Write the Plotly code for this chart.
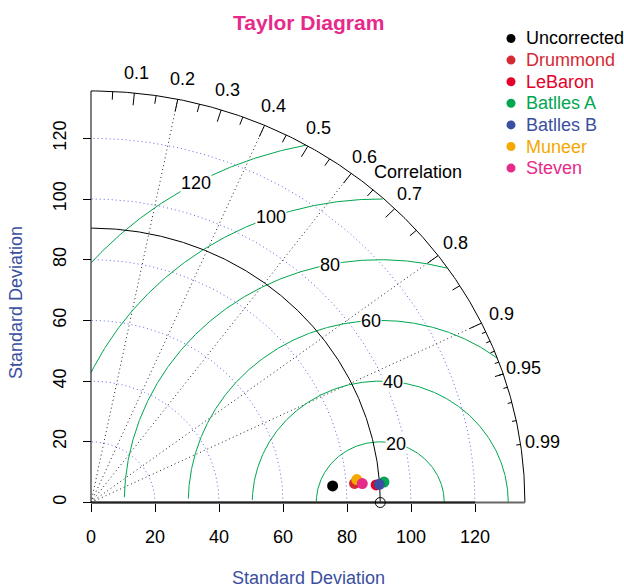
import numpy as np
import plotly.graph_objects as go

# ---------------- data ----------------
models = ["Uncorrected", "Drummond", "LeBaron", "Batlles A", "Batlles B", "Muneer", "Steven"]
model_colors = ["#000000", "#d42a34", "#e4002b", "#00a651", "#3a4fa0", "#f5a800", "#e7298a"]
sd_values = [75.7, 82.6, 89.3, 91.8, 90.3, 83.4, 85.0]
corr_values = [0.9974, 0.9971, 0.9979, 0.9973, 0.9978, 0.9959, 0.9973]

ref_sd = 90.4
max_sd = 1.5 * ref_sd
sd_ticks = [0, 20, 40, 60, 80, 100, 120]
sd_arcs = [20, 40, 60, 80, 100, 120]
rms_levels = [20, 40, 60, 80, 100, 120]
corr_big = [0.1, 0.2, 0.3, 0.4, 0.5, 0.6, 0.7, 0.8, 0.9]
corr_med = [0.05, 0.15, 0.25, 0.35, 0.45, 0.55, 0.65, 0.75, 0.85, 0.95]
corr_small = [0.91, 0.92, 0.93, 0.94, 0.95, 0.96, 0.97, 0.98, 0.99]
corr_labels = [0.1, 0.2, 0.3, 0.4, 0.5, 0.6, 0.7, 0.8, 0.9, 0.95, 0.99]
corr_rays = [0.2, 0.4, 0.6, 0.8, 0.9]

FONT = "Liberation Sans, Arial, Helvetica, sans-serif"
FS = 18
W, H = 624, 588
ML, MR, MT, MB = 74, 82, 75, 69
PW, PH = W - ML - MR, H - MT - MB
X0PX, Y0PX = 91.0, 502.5          # pixel of data origin
SX, SY = 3.2, 3.035               # pixels per unit

x_lo = -(X0PX - ML) / SX
x_hi = x_lo + PW / SX
y_lo = -((H - MB) - Y0PX) / SY
y_hi = y_lo + PH / SY


def px2paper(px, py):
    return (px - ML) / PW, ((H - MB) - py) / PH


def data2paper(x, y):
    return (x - x_lo) / (x_hi - x_lo), (y - y_lo) / (y_hi - y_lo)


fig = go.Figure()

# SD grid arcs (blue dotted)
xs, ys = [], []
th = np.arange(0, np.pi / 2, 0.01)
for r in sd_arcs:
    xs += list(np.cos(th) * r) + [None]
    ys += list(np.sin(th) * r) + [None]
fig.add_trace(go.Scatter(x=xs, y=ys, mode="lines", hoverinfo="skip",
                         line=dict(color="rgba(40,50,220,0.75)", width=1, dash="1px,3px")))

# correlation rays (dotted)
xs, ys = [], []
for c in corr_rays:
    xs += [0, max_sd * c, None]
    ys += [0, max_sd * np.sqrt(1 - c * c), None]
fig.add_trace(go.Scatter(x=xs, y=ys, mode="lines", hoverinfo="skip",
                         line=dict(color="#222222", width=1, dash="1px,3px")))

# centred RMS arcs (green)
xs, ys = [], []
for g in rms_levels:
    t = np.linspace(0, 3.12, 600)
    xc = np.cos(t) * g + ref_sd
    yc = np.sin(t) * g
    ok = (xc >= 0) & (xc * xc + yc * yc <= max_sd * max_sd)
    idx = np.where(ok)[0]
    xs += list(xc[idx]) + [None]
    ys += list(yc[idx]) + [None]
fig.add_trace(go.Scatter(x=xs, y=ys, mode="lines", hoverinfo="skip",
                         line=dict(color="#00a650", width=1)))

# reference SD arc
th = np.linspace(0, np.pi / 2, 300)
fig.add_trace(go.Scatter(x=np.cos(th) * ref_sd, y=np.sin(th) * ref_sd, mode="lines",
                         hoverinfo="skip", line=dict(color="black", width=1)))

# outer arc + ticks
xs = list(np.cos(th) * max_sd) + [None]
ys = list(np.sin(th) * max_sd) + [None]
for group, frac in ((corr_big, 0.97), (corr_med, 0.98), (corr_small, 0.99)):
    for c in group:
        s = np.sqrt(1 - c * c)
        xs += [c * max_sd, c * frac * max_sd, None]
        ys += [s * max_sd, s * frac * max_sd, None]
fig.add_trace(go.Scatter(x=xs, y=ys, mode="lines", hoverinfo="skip",
                         line=dict(color="black", width=1)))

# axis lines
fig.add_trace(go.Scatter(x=[0, max_sd], y=[0, 0], mode="lines", hoverinfo="skip",
                         line=dict(color="#666666", width=2)))
fig.add_trace(go.Scatter(x=[0, sd_ticks[-1]], y=[0, 0], mode="lines", hoverinfo="skip",
                         line=dict(color="#222222", width=2)))
fig.add_trace(go.Scatter(x=[0, 0], y=[0, max_sd], mode="lines", hoverinfo="skip",
                         line=dict(color="black", width=1)))

# reference point
fig.add_trace(go.Scatter(x=[ref_sd], y=[0], mode="markers", hoverinfo="skip",
                         marker=dict(symbol="circle-open", size=10, color="black",
                                     line=dict(width=1, color="black"))))

# model points
for name, col, sd, cr in zip(models, model_colors, sd_values, corr_values):
    fig.add_trace(go.Scatter(x=[sd * cr], y=[sd * np.sqrt(1 - cr * cr)], mode="markers",
                             name=name, marker=dict(size=11, color=col)))

ann = []
# RMS labels
for i, g in enumerate(rms_levels):
    t = (45 + 5 * i - 1) * 0.03
    ann.append(dict(x=np.cos(t) * g + ref_sd, y=np.sin(t) * g, xref="x", yref="y",
                    text=str(g), showarrow=False, bgcolor="white", borderpad=0,
                    font=dict(family=FONT, size=FS, color="black")))
# correlation labels (paper coords so they are not clipped)
for c in corr_labels:
    s = np.sqrt(1 - c * c)
    px_, py_ = data2paper(c * 1.05 * max_sd, s * 1.05 * max_sd)
    ann.append(dict(x=px_, y=py_, xref="paper", yref="paper", xanchor="center",
                    yanchor="middle", text=f"{c:g}", showarrow=False,
                    font=dict(family=FONT, size=FS, color="black")))
ann.append(dict(x=0.754 * max_sd, y=0.803 * max_sd, xref="x", yref="y", text="Correlation",
                showarrow=False, font=dict(family=FONT, size=FS, color="black")))

# title & axis titles
tx, ty = px2paper(308, 22)
ann.append(dict(x=tx, y=ty, xref="paper", yref="paper", xanchor="center", yanchor="middle",
                text="<b>Taylor Diagram</b>", showarrow=False,
                font=dict(family=FONT, size=21, color="#e7298a")))
tx, ty = px2paper(308, 578)
ann.append(dict(x=tx, y=ty, xref="paper", yref="paper", xanchor="center", yanchor="middle",
                text="Standard Deviation", showarrow=False,
                font=dict(family=FONT, size=FS, color="#3a4fa0")))
tx, ty = px2paper(16, 303)
ann.append(dict(x=tx, y=ty, xref="paper", yref="paper", xanchor="center", yanchor="middle",
                text="Standard Deviation", showarrow=False, textangle=-90,
                font=dict(family=FONT, size=FS, color="#3a4fa0")))

# legend
shapes = []
for i, (name, col) in enumerate(zip(models, model_colors)):
    py = 38.5 + 21.6 * i
    bx, by = px2paper(511, py)
    shapes.append(dict(type="circle", xref="paper", yref="paper", xsizemode="pixel",
                       ysizemode="pixel", xanchor=bx, yanchor=by, x0=-4.5, x1=4.5,
                       y0=-4.5, y1=4.5, fillcolor=col, line=dict(width=0)))
    lx, ly = px2paper(524, py)
    ann.append(dict(x=lx, y=ly, xref="paper", yref="paper", text=name, showarrow=False,
                    xanchor="left", yanchor="middle",
                    font=dict(family=FONT, size=FS, color=col)))

axis_common = dict(showgrid=False, zeroline=False, showline=False, ticks="outside",
                   ticklen=8, tickwidth=1, tickcolor="black", tickvals=sd_ticks,
                   tickfont=dict(family=FONT, size=FS, color="black"), anchor="free")

fig.update_layout(
    width=W, height=H, margin=dict(l=ML, r=MR, t=MT, b=MB),
    paper_bgcolor="white", plot_bgcolor="white", showlegend=False,
    xaxis=dict(range=[x_lo, x_hi], position=((H - MB) - Y0PX) / PH,
               ticklabelstandoff=10, **axis_common),
    yaxis=dict(range=[y_lo, y_hi], position=(X0PX - ML) / PW, tickangle=-90,
               ticklabelstandoff=10, **axis_common),
    annotations=ann, shapes=shapes,
)

fig.write_html("out.html")
